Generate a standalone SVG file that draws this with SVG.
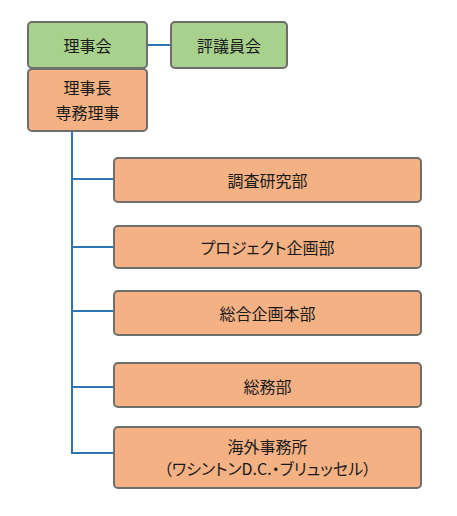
<svg xmlns="http://www.w3.org/2000/svg" width="457" height="516" viewBox="0 0 457 516">
<style>
.g{fill:#A9D18E;stroke:#6E6E6E;stroke-width:2}
.o{fill:#F4B183;stroke:#6E6E6E;stroke-width:2}
.t{font-family:"Noto Sans CJK JP","Noto Sans",sans-serif;font-size:16px;fill:#1a1a1a;text-anchor:middle;dominant-baseline:central;font-feature-settings:"palt"}
.c{stroke:#2E75B6;stroke-width:2;fill:none}
</style>
<rect width="457" height="516" fill="#fff"/>
<g id="connectors">
<line class="c" x1="147" y1="45" x2="171" y2="45"/>
<line class="c" x1="72" y1="131" x2="72" y2="454"/>
<line class="c" x1="71" y1="179" x2="114" y2="179"/>
<line class="c" x1="71" y1="247" x2="114" y2="247"/>
<line class="c" x1="71" y1="311" x2="114" y2="311"/>
<line class="c" x1="71" y1="387" x2="114" y2="387"/>
<line class="c" x1="71" y1="453" x2="114" y2="453"/>
</g>
<g id="rijikai"><rect class="g" x="28" y="22" width="119" height="46" rx="4"/><text class="t" x="87.5" y="45">理事会</text></g>
<g id="hyogiinkai"><rect class="g" x="171" y="22" width="116" height="46" rx="4"/><text class="t" x="229" y="45">評議員会</text></g>
<g id="rijicho"><rect class="o" x="28" y="69" width="119" height="62" rx="4"/><text class="t" x="87.5" y="87">理事長</text><text class="t" x="87.5" y="112">専務理事</text></g>
<g id="chosa"><rect class="o" x="114" y="158" width="307" height="44" rx="4"/><text class="t" x="267.5" y="180">調査研究部</text></g>
<g id="project"><rect class="o" x="114" y="226" width="307" height="42" rx="4"/><text class="t" x="267.5" y="247">プロジェクト企画部</text></g>
<g id="sogo"><rect class="o" x="114" y="291" width="307" height="44" rx="4"/><text class="t" x="267.5" y="313">総合企画本部</text></g>
<g id="somu"><rect class="o" x="114" y="363" width="307" height="44" rx="4"/><text class="t" x="267.5" y="386">総務部</text></g>
<g id="kaigai"><rect class="o" x="114" y="427" width="307" height="61" rx="4"/><text class="t" x="267.5" y="446">海外事務所</text><text class="t" x="267.5" y="468">（ワシントンD.C.・ブリュッセル）</text></g>
</svg>
